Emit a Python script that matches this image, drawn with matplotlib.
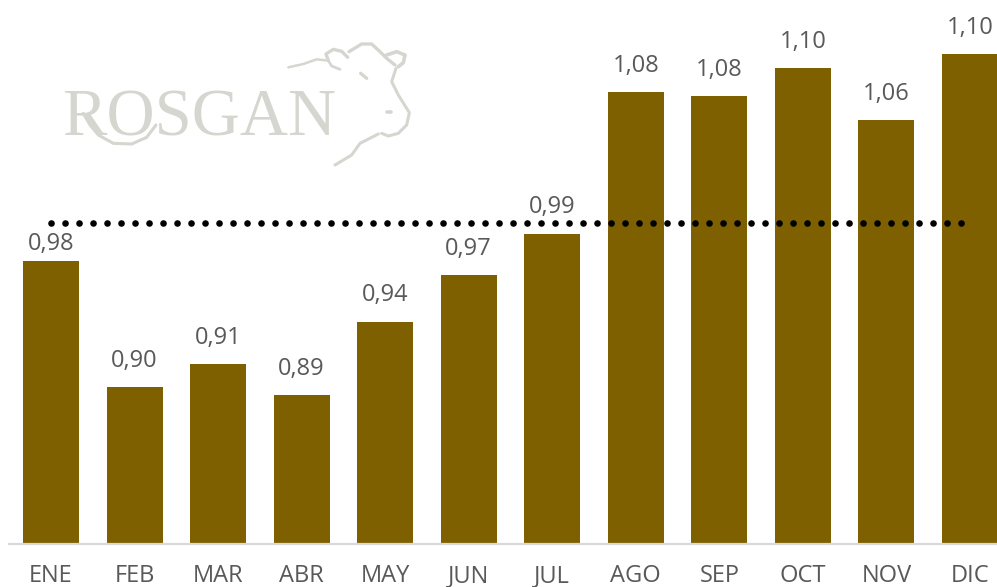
import matplotlib
matplotlib.use("Agg")
import matplotlib.pyplot as plt
from matplotlib.path import Path
from matplotlib.patches import PathPatch

W, H = 997, 587

MONTHS = ["ENE", "FEB", "MAR", "ABR", "MAY", "JUN", "JUL", "AGO", "SEP", "OCT", "NOV", "DIC"]
VALUES = [0.977, 0.898, 0.9125, 0.893, 0.939, 0.968, 0.994, 1.0825, 1.08, 1.0975, 1.065, 1.106]
LABELS = ["0,98", "0,90", "0,91", "0,89", "0,94", "0,97", "0,99", "1,08", "1,08", "1,10", "1,06", "1,10"]
AVERAGE = [1.0005] * 12

BAR_COLOR = "#7F6000"
TEXT_COLOR = "#595959"
LOGO_COLOR = "#D6D6D0"

plt.rcParams["font.family"] = ["Open Sans", "DejaVu Sans"]

fig = plt.figure(figsize=(W / 100, H / 100), dpi=100)

# plot area runs past the right edge of the picture, DIC is cut off
ax = fig.add_axes([9.2 / W, 43 / H, 1002.6 / W, 544 / H])
x = list(range(len(MONTHS)))
ax.bar(x, VALUES, width=0.67, color=BAR_COLOR, zorder=2)
ax.plot(x, AVERAGE, color="black", linewidth=4.8, linestyle=(0, (0.01, 2.09)),
        dash_capstyle="round", zorder=3)

for i, (v, lab) in enumerate(zip(VALUES, LABELS)):
    gap = 7.5 if i == 0 else 14.5
    ax.annotate(lab, (i, v), xytext=(0, gap), textcoords="offset points",
                ha="center", va="baseline", fontsize=17, color=TEXT_COLOR,
                annotation_clip=False, zorder=4)

ax.set_xlim(-0.5, 11.5)
ax.set_ylim(0.8, 0.8 + 544 / 1600)
ax.set_xticks(x)
ax.set_xticklabels(MONTHS, fontsize=17, color=TEXT_COLOR)
ax.set_yticks([])
ax.tick_params(axis="x", length=0, pad=14.5)
for side in ["top", "left", "right"]:
    ax.spines[side].set_visible(False)
ax.spines["bottom"].set_color("#D9D9D9")
ax.spines["bottom"].set_linewidth(1.6)
ax.patch.set_alpha(0)

# logo layer, in picture pixels
logo = fig.add_axes([0, 0, 1, 1], zorder=-1)
logo.set_xlim(0, W)
logo.set_ylim(H, 0)
logo.axis("off")
logo.text(62, 136, "ROSGAN", family="Liberation Serif", fontsize=48, color=LOGO_COLOR,
          ha="left", va="baseline")


def stroke(points, lw):
    pts = [(50 + a / 3, 30 + b / 3) for a, b in points]
    codes = [Path.MOVETO] + [Path.LINETO] * (len(pts) - 1)
    logo.add_patch(PathPatch(Path(pts, codes), fill=False, edgecolor=LOGO_COLOR, linewidth=lw,
                             capstyle="round", joinstyle="round"))


stroke([(100, 250), (120, 285), (145, 315), (190, 340), (245, 342), (290, 322), (318, 285)], 2.2)
stroke([(715, 112), (760, 102), (800, 88), (835, 92)], 1.8)
stroke([(835, 92), (828, 72), (850, 58), (875, 64), (893, 82)], 2.4)
stroke([(835, 92), (845, 108), (870, 118)], 2.0)
stroke([(897, 65), (935, 42), (965, 42), (990, 65), (1010, 85), (1035, 105)], 2.4)
stroke([(1010, 75), (1040, 65), (1065, 75), (1060, 98), (1045, 110)], 2.6)
stroke([(1038, 115), (1025, 155), (1045, 195), (1078, 248), (1070, 285), (1045, 310),
        (1015, 318), (995, 310)], 2.2)
stroke([(985, 312), (930, 340), (905, 375), (855, 405)], 2.2)
stroke([(932, 130), (950, 145)], 2.4)
stroke([(1010, 245), (1022, 245)], 2.6)

fig.savefig("out.png", dpi=100)
